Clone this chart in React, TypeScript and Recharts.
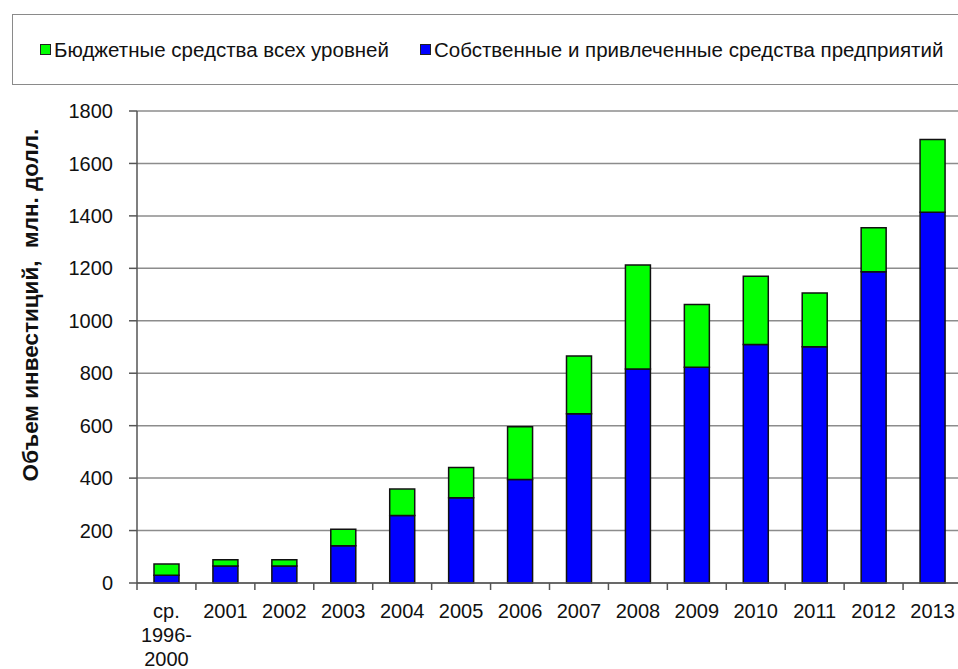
import React from 'react';
import { BarChart, Bar, XAxis, YAxis, CartesianGrid, Legend, Label } from 'recharts';

const categories = ['ср.\n1996-\n2000', '2001', '2002', '2003', '2004', '2005', '2006', '2007', '2008', '2009', '2010', '2011', '2012', '2013'];
const ownFunds = [30, 65, 65, 142, 257, 325, 395, 645, 816, 823, 910, 901, 1187, 1414];
const budgetFunds = [42, 24, 24, 63, 101, 115, 201, 221, 397, 239, 260, 205, 168, 277];
const yTicks = [0, 200, 400, 600, 800, 1000, 1200, 1400, 1600, 1800];

const legendItems = [
  { label: 'Бюджетные средства всех уровней', color: '#00ff00' },
  { label: 'Собственные и привлеченные средства предприятий', color: '#0000ff' },
];
const yLabel = 'Объем инвестиций,\u00a0 млн. долл.';

const data = categories.map((c, i) => ({ name: c, own: ownFunds[i], budget: budgetFunds[i] }));

const FONT = "'Liberation Sans', Arial, sans-serif";

const CHART_W = 980;
const MARGIN = { top: 111, right: 18, bottom: 0, left: 0 };
const Y_AXIS_W = 137;
const BAND = (CHART_W - MARGIN.right - MARGIN.left - Y_AXIS_W) / categories.length;

const renderLegend = () => (
  <div style={{ position: 'relative', width: '100%', height: '100%', fontFamily: FONT }}>
    {legendItems.map((it, i) => (
      <div
        key={i}
        style={{ position: 'absolute', left: i === 0 ? 27 : 407, top: 0, height: '100%', display: 'flex', alignItems: 'center' }}
      >
        <span style={{ display: 'inline-block', width: 9, height: 9, background: it.color, border: '1px solid #222', marginRight: 3 }} />
        <span style={{ fontSize: 20.5, color: '#111', whiteSpace: 'nowrap' }}>{it.label}</span>
      </div>
    ))}
  </div>
);

const CatTick = (props: any) => {
  const { x, y, payload } = props;
  const lines = String(payload.value).split('\n');
  return (
    <g>
      <line x1={x - BAND / 2} x2={x - BAND / 2} y1={y} y2={y + 7} stroke="#555" strokeWidth={1.5} />
      <text x={x} y={y} textAnchor="middle" fontFamily={FONT} fontSize={20} fill="#111">
        {lines.map((l, i) => (
          <tspan key={i} x={x} dy={i === 0 ? 35 : 24}>{l}</tspan>
        ))}
      </text>
    </g>
  );
};

export default function App() {
  return (
    <div style={{ position: 'absolute', left: 0, top: 0, width: 958, height: 669, overflow: 'hidden', background: '#fff' }}>
      <BarChart
        width={CHART_W}
        height={669}
        data={data}
        margin={MARGIN}
        barSize={25}
        style={{ fontFamily: FONT }}
      >
        <CartesianGrid vertical={false} stroke="#8c8c8c" strokeWidth={1.5} />
        <XAxis
          dataKey="name"
          type="category"
          interval={0}
          tickLine={false}
          tickSize={0}
          tickMargin={0}
          axisLine={{ stroke: '#555', strokeWidth: 1.5 }}
          tick={<CatTick />}
          height={86}
        />
        <YAxis
          domain={[0, 1800]}
          ticks={yTicks}
          interval={0}
          width={Y_AXIS_W}
          axisLine={{ stroke: '#555', strokeWidth: 1.5 }}
          tickLine={{ stroke: '#555', strokeWidth: 1.5 }}
          tickSize={8}
          tickMargin={16}
          tick={{ fontSize: 20, fill: '#111', fontFamily: FONT }}
        >
          <Label
            content={() => (
              <text
                x={30}
                y={305}
                transform="rotate(-90 30 305)"
                textAnchor="middle"
                dominantBaseline="central"
                fontFamily={FONT}
                fontSize={22.5}
                fontWeight="bold"
                fill="#111"
              >
                {yLabel}
              </text>
            )}
          />
        </YAxis>
        <Legend
          layout="horizontal"
          verticalAlign="middle"
          align="center"
          content={renderLegend}
          wrapperStyle={{
            position: 'absolute',
            left: 12,
            top: 14,
            width: 960,
            height: 71,
            border: '1.5px solid #8a8a8a',
            boxSizing: 'border-box',
            background: '#fff',
          }}
        />
        <Bar dataKey="own" stackId="a" fill="#0000ff" stroke="#111" strokeWidth={1.5} isAnimationActive={false} />
        <Bar dataKey="budget" stackId="a" fill="#00ff00" stroke="#111" strokeWidth={1.5} isAnimationActive={false} />
      </BarChart>
    </div>
  );
}
